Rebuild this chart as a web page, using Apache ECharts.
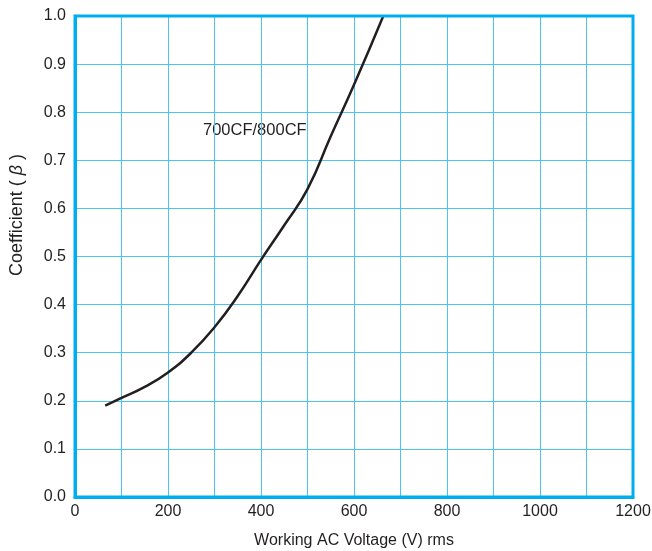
<!DOCTYPE html>
<html>
<head>
<meta charset="utf-8">
<script src="https://cdn.jsdelivr.net/npm/echarts@6/dist/echarts.min.js"></script>
<style>
html,body{margin:0;padding:0;background:#fff;}
#chart{width:652px;height:551px;}
</style>
</head>
<body>
<div id="chart"></div>
<script>
// curve: [voltage, coefficient]
var voltage = [65, 100, 150, 200, 250, 300, 350, 400, 450, 500, 550, 600, 663];
var coef    = [0.19, 0.206, 0.229, 0.259, 0.30, 0.353, 0.418, 0.493, 0.565, 0.64, 0.75, 0.857, 1.0];
var seriesName = '700CF/800CF';

var pts = [];
for (var i = 0; i < voltage.length; i++) {
    pts.push([voltage[i], coef[i]]);
}

var blue = '#00aeef';
var gridBlue = '#4cc4f0';
var ink = '#231f20';
var font = 'Liberation Sans';

var chart = echarts.init(document.getElementById('chart'));
chart.setOption({
    animation: false,
    grid: {left: 75, right: 19, top: 16, bottom: 54, outerBoundsMode: 'none'},
    xAxis: {
        type: 'value',
        min: 0, max: 1200, interval: 100,
        name: 'Working AC Voltage (V) rms',
        nameLocation: 'middle',
        nameGap: 36,
        nameTextStyle: {color: ink, fontSize: 16, fontFamily: font},
        axisLine: {show: true, lineStyle: {color: blue, width: 3}},
        axisTick: {show: false},
        axisLabel: {
            color: ink, fontSize: 16, fontFamily: font, margin: 7,
            formatter: function (v) { return v % 200 === 0 ? v : ''; }
        },
        splitLine: {show: true, lineStyle: {color: gridBlue, width: 1}}
    },
    yAxis: {
        type: 'value',
        min: 0, max: 1, interval: 0.1,
        axisLine: {show: true, lineStyle: {color: blue, width: 3}},
        axisTick: {show: false},
        axisLabel: {
            color: ink, fontSize: 16, fontFamily: font, margin: 9,
            formatter: function (v) { return v.toFixed(1); }
        },
        splitLine: {show: true, lineStyle: {color: gridBlue, width: 1}}
    },
    graphic: [
        {
            type: 'rect',
            shape: {x: 75, y: 16, width: 558, height: 481},
            style: {fill: 'none', stroke: blue, lineWidth: 3},
            z: 10
        },
        {
            type: 'text',
            x: 17, y: 215,
            rotation: Math.PI / 2,
            style: {
                text: '{a|Coefficient ( }{b|β}{a| )}',
                align: 'center', verticalAlign: 'middle',
                rich: {
                    a: {fill: ink, fontSize: 18, fontFamily: font},
                    b: {fill: ink, fontSize: 18, fontFamily: font, fontStyle: 'italic'}
                }
            }
        },
        {
            type: 'text',
            left: 203, top: 122,
            style: {text: seriesName, fill: ink, fontSize: 16.5, fontFamily: font}
        }
    ],
    series: [{
        name: seriesName,
        type: 'line',
        data: pts,
        smooth: true,
        symbol: 'none',
        clip: true,
        lineStyle: {color: ink, width: 2.5},
        z: 5
    }]
});
</script>
</body>
</html>
